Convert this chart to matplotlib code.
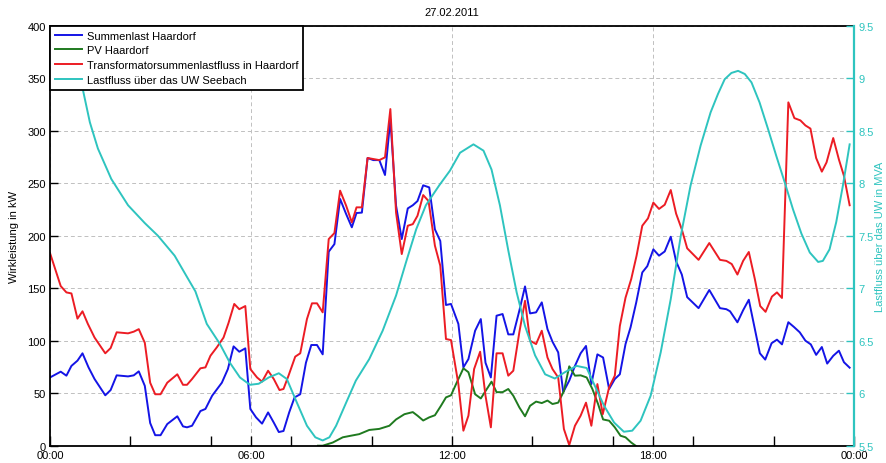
import matplotlib
matplotlib.use("Agg")
import matplotlib.pyplot as plt
from matplotlib.ticker import FixedLocator, FuncFormatter
from matplotlib.lines import Line2D

# --- Summenlast Haardorf (kW) ---
last_t = [0.0, 0.32, 0.49, 0.64, 0.82, 0.97, 1.15, 1.33, 1.65, 1.81, 1.99, 2.33, 2.5, 2.65,
          2.83, 2.99, 3.14, 3.3, 3.5, 3.8, 3.97, 4.09, 4.24, 4.49, 4.64, 4.84, 5.13, 5.31,
          5.48, 5.65, 5.83, 5.98, 6.15, 6.33, 6.51, 6.68, 6.83, 6.97, 7.14, 7.3, 7.47, 7.64,
          7.8, 7.97, 8.14, 8.32, 8.49, 8.66, 8.84, 9.01, 9.15, 9.31, 9.48, 9.65, 9.83, 10.0,
          10.16, 10.33, 10.5, 10.68, 10.83, 10.97, 11.14, 11.32, 11.49, 11.65, 11.82, 11.97,
          12.19, 12.34, 12.49, 12.69, 12.86, 13.0, 13.16, 13.33, 13.51, 13.68, 13.83, 14.01,
          14.18, 14.33, 14.51, 14.68, 14.85, 15.0, 15.17, 15.32, 15.5, 15.67, 15.84, 16.0,
          16.16, 16.34, 16.51, 16.69, 16.86, 17.01, 17.18, 17.33, 17.5, 17.68, 17.83, 18.01,
          18.18, 18.35, 18.53, 18.69, 18.86, 19.02, 19.36, 19.68, 20.0, 20.19, 20.3, 20.52,
          20.69, 20.86, 21.19, 21.35, 21.54, 21.7, 21.85, 22.04, 22.21, 22.38, 22.55, 22.71,
          22.87, 23.04, 23.2, 23.38, 23.55, 23.7, 23.87]
last_kw = [65, 70.5, 66.7, 76, 81, 88, 74.6, 63.5, 48, 53, 67, 66, 67, 70.8,
           57, 21.6, 10, 10, 20.6, 28, 18.4, 17.5, 19, 33, 35, 47.6, 60, 73,
           94.6, 89.5, 92.7, 35, 27, 21, 31.7, 22, 13, 14, 31.7, 46, 49, 79,
           95.9, 95.9, 87, 184.8, 192, 235, 220.6, 208, 221.6, 222, 274, 272, 272, 257.8,
           311, 228.6, 196.8, 226, 229, 233, 248, 246, 206, 195, 134, 135,
           116, 74.6, 82.5, 109.5, 120.6, 79, 65, 123.8, 125.4, 106, 106, 128.6,
           151.7, 126, 127, 136.5, 111, 99, 88.9, 51, 62, 76, 88, 95,
           58.7, 87, 84, 54, 63.5, 68, 96.8, 112.7, 136.5, 165, 171, 187,
           181, 185, 199, 175.5, 163, 141.5, 131, 148.3, 131, 130, 128, 117.5,
           129, 139, 88, 82, 97.6, 101, 96.5, 117.6, 113, 108, 100, 96.5,
           86.5, 94, 78.2, 85.6, 90.5, 79.5, 74.3]

# --- PV Haardorf (kW) ---
pv_t = [8.0, 8.14, 8.44, 8.74, 8.98, 9.23, 9.53, 9.83, 10.13, 10.33, 10.58, 10.83, 10.97,
        11.14, 11.32, 11.49, 11.67, 11.82, 11.97, 12.14, 12.34, 12.49, 12.69, 12.86, 13.0,
        13.18, 13.33, 13.51, 13.68, 13.83, 14.01, 14.18, 14.33, 14.51, 14.68, 14.85, 15.0,
        15.17, 15.34, 15.5, 15.67, 15.84, 16.02, 16.19, 16.36, 16.51, 16.69, 16.86, 17.03,
        17.18, 17.35, 17.48]
pv_kw = [0, 0, 3, 8, 9.5, 11, 15, 16, 19, 25, 30, 32, 28.6,
         24, 27, 29, 38, 46, 48, 60, 73.7, 70, 49, 45, 52,
         61, 51, 51, 54, 47.6, 36.5, 28, 38, 42, 40.6, 43, 39.7,
         41, 52, 75.6, 66.7, 67, 65, 54, 39.7, 25, 23.8, 17.5, 9.5,
         8, 3, 0]

# --- Transformatorsummenlastfluss in Haardorf (kW) ---
trafo_t = [0.0, 0.32, 0.49, 0.64, 0.82, 0.97, 1.13, 1.33, 1.65, 1.81, 1.99, 2.33, 2.5, 2.65,
           2.83, 2.99, 3.14, 3.3, 3.5, 3.8, 3.97, 4.09, 4.24, 4.49, 4.64, 4.79, 4.98, 5.18,
           5.33, 5.5, 5.65, 5.83, 5.98, 6.18, 6.33, 6.51, 6.68, 6.85, 6.97, 7.12, 7.32, 7.47,
           7.67, 7.82, 7.97, 8.14, 8.32, 8.49, 8.66, 8.84, 9.01, 9.15, 9.31, 9.48, 9.65, 9.83,
           10.0, 10.16, 10.33, 10.5, 10.68, 10.83, 10.97, 11.14, 11.3, 11.49, 11.65, 11.82,
           11.97, 12.19, 12.34, 12.49, 12.66, 12.84, 13.0, 13.16, 13.33, 13.51, 13.68, 13.83,
           14.01, 14.18, 14.33, 14.51, 14.68, 14.85, 15.0, 15.17, 15.34, 15.5, 15.67, 15.84,
           16.0, 16.16, 16.34, 16.5, 16.69, 16.86, 17.01, 17.18, 17.35, 17.51, 17.68, 17.85,
           18.01, 18.18, 18.35, 18.53, 18.69, 18.86, 19.02, 19.36, 19.68, 20.0, 20.19, 20.35,
           20.52, 20.69, 20.86, 21.04, 21.2, 21.36, 21.55, 21.7, 21.85, 22.04, 22.22, 22.4,
           22.55, 22.7, 22.87, 23.04, 23.18, 23.38, 23.55, 23.7, 23.87]
trafo_kw = [183.5, 152, 146, 145, 121, 128, 116, 103, 88, 93, 108, 107, 108.6, 111,
            98, 60, 49, 49, 60, 68, 58, 58, 63.5, 73.7, 74.6, 85.7, 93.7, 103,
            117, 135, 130, 133, 73, 65, 61, 71.4, 63.5, 53, 54, 66.7, 84.8, 88,
            120.6, 135.6, 135.6, 127, 196.8, 202.5, 242.9, 228.6, 212.7, 227, 227, 274, 273, 272,
            274.6, 320.6, 222, 182.5, 209.5, 211, 219, 238.7, 233, 190.5, 171.4, 101.6,
            100.6, 58.7, 14.3, 28.6, 73, 89.5, 47.6, 17.5, 88, 88, 66.7, 71.4,
            108, 138, 100, 96.8, 109.5, 84, 73, 65, 15.9, 0.6, 19, 28.6,
            41, 19, 58.7, 30, 55.6, 66.7, 114, 141, 158.7, 181, 209.5, 216.5,
            231.5, 225.5, 229.5, 243.5, 221, 206, 188, 177, 193, 177, 176, 173,
            163, 176, 184.5, 158.7, 133, 127.5, 142, 146, 140.7, 327, 312, 309.8,
            305, 302, 274, 261, 269.8, 293, 272.5, 257, 229]

# --- Lastfluss ueber das UW Seebach (MVA) ---
uw_t = [0.0, 0.5, 0.975, 1.19, 1.43, 1.83, 2.33, 2.83, 3.22, 3.72, 4.12, 4.34, 4.68, 5.07,
        5.37, 5.67, 5.97, 6.23, 6.53, 6.83, 7.07, 7.37, 7.67, 7.92, 8.14, 8.34, 8.54, 8.84,
        9.13, 9.53, 9.93, 10.33, 10.63, 10.93, 11.22, 11.62, 11.94, 12.24, 12.64, 12.94,
        13.18, 13.43, 13.68, 13.93, 14.18, 14.48, 14.78, 15.07, 15.37, 15.72, 16.02, 16.24,
        16.54, 16.84, 17.13, 17.38, 17.63, 17.93, 18.23, 18.53, 18.83, 19.12, 19.42, 19.72,
        19.94, 20.14, 20.34, 20.54, 20.74, 20.94, 21.18, 21.43, 21.68, 21.93, 22.18, 22.43,
        22.68, 22.93, 23.07, 23.27, 23.47, 23.67, 23.87]
uw_mva = [9.75, 9.35, 8.90, 8.58, 8.33, 8.04, 7.79, 7.62, 7.50, 7.31, 7.09, 6.97, 6.66, 6.47,
          6.29, 6.15, 6.08, 6.09, 6.15, 6.19, 6.135, 5.91, 5.69, 5.58, 5.55, 5.58, 5.69, 5.91,
          6.12, 6.325, 6.595, 6.93, 7.25, 7.56, 7.79, 7.98, 8.12, 8.29, 8.37, 8.31,
          8.13, 7.79, 7.36, 6.96, 6.64, 6.36, 6.18, 6.14, 6.2, 6.26, 6.24, 6.087,
          5.88, 5.72, 5.633, 5.643, 5.738, 5.976, 6.389, 6.897, 7.5, 7.976, 8.357, 8.675,
          8.85, 8.99, 9.05, 9.07, 9.04, 8.96, 8.77, 8.52, 8.26, 8.01, 7.75, 7.52,
          7.34, 7.25, 7.26, 7.37, 7.63, 7.98, 8.37]

series_names = ["Summenlast Haardorf", "PV Haardorf",
                "Transformatorsummenlastfluss in Haardorf", "Lastfluss über das UW Seebach"]
title_text = "27.02.2011"
hour_labels = [0, 6, 12, 18, 24]
kw_ticks = [0, 50, 100, 150, 200, 250, 300, 350, 400]
mva_ticks = [5.5, 6, 6.5, 7, 7.5, 8, 8.5, 9, 9.5]

c_blue = "#1414e6"
c_green = "#1f7a1f"
c_red = "#ec1c24"
c_cyan = "#2ec4bf"

plt.rcParams["font.family"] = ["Liberation Sans", "DejaVu Sans"]

fig = plt.figure(figsize=(8.87, 4.64), dpi=100)
ax = fig.add_axes([50 / 887, 17.3 / 464, 804 / 887, 420 / 464])

lw = 1.4
ax.plot(last_t, last_kw, color=c_blue, lw=lw)
ax.plot(pv_t, pv_kw, color=c_green, lw=lw)
ax.plot(trafo_t, trafo_kw, color=c_red, lw=lw)

ax.set_xlim(0, 24)
ax.set_ylim(0, 400)
ax.xaxis.set_major_locator(FixedLocator(hour_labels))
ax.xaxis.set_minor_locator(FixedLocator([2.4 * i for i in range(1, 10)]))
ax.xaxis.set_major_formatter(FuncFormatter(lambda v, p: "%02d:00" % (int(round(v)) % 24)))
ax.yaxis.set_major_locator(FixedLocator(kw_ticks))
ax.tick_params(axis="both", which="both", direction="in", labelsize=8, width=1.0)
ax.tick_params(axis="x", which="major", length=7, pad=3)
ax.tick_params(axis="x", which="minor", length=7)
ax.tick_params(axis="y", which="major", length=6, pad=3)
ax.grid(True, which="major", color="#c0c0c0", linestyle=(0, (4, 3)), linewidth=0.7)
ax.set_ylabel("Wirkleistung in kW", fontsize=8, labelpad=6)
for s in ("left", "bottom", "top"):
    ax.spines[s].set_linewidth(1.3)
ax.spines["right"].set_visible(False)
ax.set_title(title_text, fontsize=8, pad=8)

ax2 = ax.twinx()
ax2.plot(uw_t, uw_mva, color=c_cyan, lw=lw)
ax2.set_ylim(5.5, 9.5)
ax2.set_xlim(0, 24)
ax2.yaxis.set_major_locator(FixedLocator(mva_ticks))
ax2.yaxis.set_major_formatter(FuncFormatter(lambda v, p: ("%g" % v)))
ax2.tick_params(axis="y", direction="in", length=6, width=1.0, colors=c_cyan, labelsize=8, pad=3)
ax2.spines["right"].set_color(c_cyan)
ax2.spines["right"].set_linewidth(1.6)
for s in ("left", "bottom", "top"):
    ax2.spines[s].set_visible(False)
ax2.set_ylabel("Lastfluss über das UW in MVA", fontsize=8, color=c_cyan,
               rotation=90, va="center", ha="center")
ax2.yaxis.set_label_coords(1.032, 0.5)

handles = [Line2D([], [], color=c, lw=lw) for c in (c_blue, c_green, c_red, c_cyan)]
leg = ax2.legend(handles, series_names, loc="upper left", bbox_to_anchor=(0, 1),
                 fontsize=8, frameon=True, fancybox=False, framealpha=1,
                 edgecolor="black", borderaxespad=0, handlelength=2.4,
                 handletextpad=0.45, labelspacing=0.42, borderpad=0.45)
leg.get_frame().set_linewidth(1.3)

fig.savefig("out.png", dpi=100)
